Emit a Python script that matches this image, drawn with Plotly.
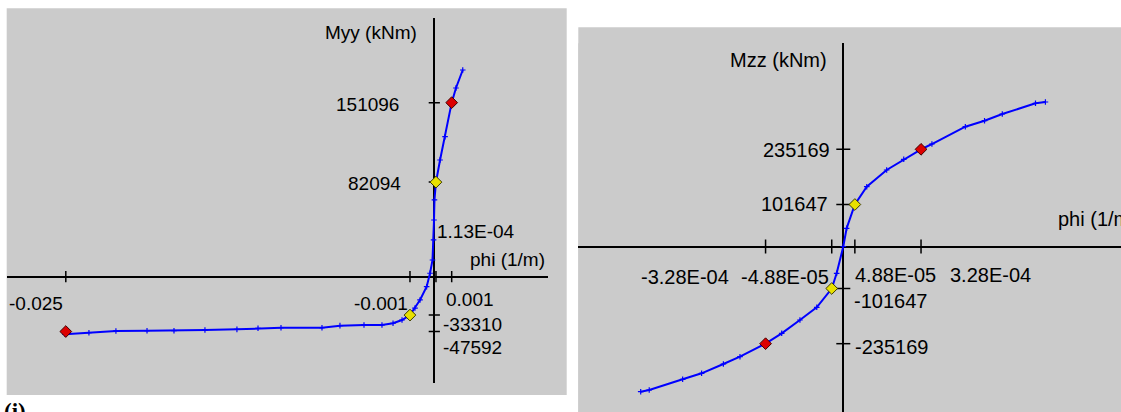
import plotly.graph_objects as go

# ---------------- data: left panel (Myy vs phi) ----------------
myy_phi = [-0.02505, -0.02343, -0.02160, -0.01949, -0.01766, -0.01556, -0.01339,
           -0.01196, -0.01040, -0.00762, -0.00640, -0.00477, -0.00355, -0.00280,
           -0.00219, -0.00165, -0.00131, -0.00097, -0.00052, -0.00029, -0.00012,
           -0.00005, -0.00002, 0.00001, 0.000113, 0.00039, 0.00073, 0.00118,
           0.00147, 0.00193]
myy_val = [-50000, -48600, -47100, -46900, -46900, -46300, -45700,
           -44800, -44300, -44300, -42500, -41900, -41900, -40400,
           -37600, -33310, -27200, -20200, -8700, 3000, 14500,
           31900, 49200, 66600, 82094, 101300, 121500, 151096,
           163800, 179400]
myy_yield_phi = [-0.00165, 0.000113]
myy_yield_val = [-33310, 82094]
myy_ult_phi = [-0.025, 0.00118]
myy_ult_val = [-47592, 151096]
left_xtick_vals = [-0.025, -0.00165, 0.000113, 0.00118]
left_xtick_text = ["-0.025", "-0.001", "1.13E-04", "0.001"]
left_ytick_vals = [151096, 82094, -33310, -47592]
left_ytick_text = ["151096", "82094", "-33310", "-47592"]

# ---------------- data: right panel (Mzz vs phi) ----------------
mzz_phi = [-8.55e-4, -8.19e-4, -6.78e-4, -5.98e-4, -5.06e-4, -4.36e-4, -3.28e-4,
           -2.60e-4, -1.83e-4, -1.12e-4, -4.88e-5, -2.8e-5, 0.0, 1.4e-5, 4.88e-5,
           9.9e-5, 1.83e-4, 2.55e-4, 3.28e-4, 3.74e-4, 5.15e-4, 5.96e-4, 6.71e-4,
           8.11e-4, 8.53e-4]
mzz_val = [-351400, -347300, -321400, -306900, -284400, -266700, -235169,
           -210100, -177900, -147100, -101647, -64900, 0, 44000, 101647,
           144700, 185100, 211000, 235169, 248000, 289900, 304400, 320700,
           346500, 349700]
mzz_yield_phi = [-4.88e-5, 4.88e-5]
mzz_yield_val = [-101647, 101647]
mzz_ult_phi = [-3.28e-4, 3.28e-4]
mzz_ult_val = [-235169, 235169]
right_xtick_vals = [-3.28e-4, -4.88e-5, 4.88e-5, 3.28e-4]
right_xtick_text = ["-3.28E-04", "-4.88E-05", "4.88E-05", "3.28E-04"]
right_ytick_vals = [235169, 101647, -101647, -235169]
right_ytick_text = ["235169", "101647", "-101647", "-235169"]

# ---------------- styling ----------------
W, H = 1121, 412
GRAY = "#cbcbcb"
BLUE = "#0000ff"
FONT = "Liberation Sans"


def px(xp):
    return xp / W


def py(yp):
    return 1 - yp / H


fig = go.Figure()


def add_panel(xa, ya, phi, val, yphi, yval, uphi, uval, xt, yt, tsize):
    # tick marks on the crossing axes
    fig.add_trace(go.Scatter(x=xt, y=[0] * len(xt), mode="markers", xaxis=xa, yaxis=ya,
                             marker=dict(symbol="line-ns-open", size=tsize, color="black",
                                         line=dict(color="black", width=1.5)),
                             hoverinfo="skip"))
    fig.add_trace(go.Scatter(x=[0] * len(yt), y=yt, mode="markers", xaxis=xa, yaxis=ya,
                             marker=dict(symbol="line-ew-open", size=tsize, color="black",
                                         line=dict(color="black", width=1.5)),
                             hoverinfo="skip"))
    # moment-curvature curve
    fig.add_trace(go.Scatter(x=phi, y=val, mode="lines+markers", xaxis=xa, yaxis=ya,
                             line=dict(color=BLUE, width=2),
                             marker=dict(symbol="cross-thin-open", size=4, color=BLUE,
                                         line=dict(color=BLUE, width=1.2))))
    # first yield points
    fig.add_trace(go.Scatter(x=yphi, y=yval, mode="markers", xaxis=xa, yaxis=ya,
                             marker=dict(symbol="diamond", size=9, color="#e8e000",
                                         line=dict(color="#3a3a00", width=1))))
    # ultimate points
    fig.add_trace(go.Scatter(x=uphi, y=uval, mode="markers", xaxis=xa, yaxis=ya,
                             marker=dict(symbol="diamond", size=9, color="#dd0000",
                                         line=dict(color="#400000", width=1))))


add_panel("x", "y", myy_phi, myy_val, myy_yield_phi, myy_yield_val,
          myy_ult_phi, myy_ult_val, left_xtick_vals, left_ytick_vals, 8)
add_panel("x2", "y2", mzz_phi, mzz_val, mzz_yield_phi, mzz_yield_val,
          mzz_ult_phi, mzz_ult_val, right_xtick_vals, right_ytick_vals, 10)

axis_common = dict(showgrid=False, showticklabels=False, ticks="", showline=False,
                   zeroline=True, zerolinecolor="black", zerolinewidth=2, fixedrange=True)

# left panel geometry (pixel mapping)
L_X0, L_XS = 434.3, 14740.0   # px of phi=0, px per unit
L_Y0, L_YS = 276.7, 868.0     # px of M=0, kNm per px
L_left, L_right, L_top, L_bot = 7.0, 548.3, 18.3, 383.3
# right panel geometry
R_X0, R_XS = 843.3, 1 / 4.22e-6
R_Y0, R_YS = 246.5, 2420.0
R_left, R_right, R_top, R_bot = 578.3, 1121.0, 43.3, 412.0

fig.update_layout(
    width=W, height=H, margin=dict(l=0, r=0, t=0, b=0),
    paper_bgcolor="white", plot_bgcolor=GRAY, showlegend=False,
    xaxis=dict(domain=[px(L_left), px(L_right)], anchor="y",
               range=[(L_left - L_X0) / L_XS, (L_right - L_X0) / L_XS], **axis_common),
    yaxis=dict(domain=[py(L_bot), py(L_top)], anchor="x",
               range=[(L_Y0 - L_bot) * L_YS, (L_Y0 - L_top) * L_YS], **axis_common),
    xaxis2=dict(domain=[px(R_left), px(R_right)], anchor="y2",
                range=[(R_left - R_X0) / R_XS, (R_right - R_X0) / R_XS], **axis_common),
    yaxis2=dict(domain=[py(R_bot), py(R_top)], anchor="x2",
                range=[(R_Y0 - R_bot) * R_YS, (R_Y0 - R_top) * R_YS], **axis_common),
    shapes=[
        dict(type="rect", xref="paper", yref="paper", layer="below",
             x0=px(6.7), x1=px(566.7), y0=py(395), y1=py(8.3),
             fillcolor=GRAY, line=dict(width=0)),
        dict(type="rect", xref="paper", yref="paper", layer="below",
             x0=px(578.3), x1=1, y0=0, y1=py(27.3),
             fillcolor=GRAY, line=dict(width=0)),
    ],
)

ann = []


def lab(xr, yr, x, y, text, xanchor, xshift, yshift, size):
    ann.append(dict(xref=xr, yref=yr, x=x, y=y, text=text, showarrow=False,
                    xanchor=xanchor, yanchor="middle", xshift=xshift, yshift=yshift,
                    borderpad=0, font=dict(family=FONT, size=size, color="black")))


# left panel labels
lsz = 19
xpl = [("right", -2, -27), ("right", -1, -27), ("left", 0, 45), ("left", -7, -23)]
for v, t, (a, dx, dy) in zip(left_xtick_vals, left_xtick_text, xpl):
    lab("x", "y", v, 0, t, a, dx, dy, lsz)
ypl = [("right", -34, -2), ("right", -32.5, -1), ("left", 7.5, -9), ("left", 7.5, -15.5)]
for v, t, (a, dx, dy) in zip(left_ytick_vals, left_ytick_text, ypl):
    lab("x", "y", 0, v, t, a, dx, dy, lsz)
lab("paper", "paper", px(418), py(33), "Myy (kNm)", "right", 0, 0, lsz)
lab("paper", "paper", px(469), py(259), "phi (1/m)", "left", 0, 0, lsz)

# right panel labels
rsz = 20
xpr = [("right", -35.7, -30), ("right", -1.4, -30), ("left", -1, -28.5), ("left", 27.8, -28.5)]
for v, t, (a, dx, dy) in zip(right_xtick_vals, right_xtick_text, xpr):
    lab("x2", "y2", v, 0, t, a, dx, dy, rsz)
ypr = [("right", -12.6, -0.7), ("right", -14.3, 0.5), ("left", 10, -12.5), ("left", 10.7, -3)]
for v, t, (a, dx, dy) in zip(right_ytick_vals, right_ytick_text, ypr):
    lab("x2", "y2", 0, v, t, a, dx, dy, rsz)
lab("paper", "paper", px(828.3), py(60), "Mzz (kNm)", "right", 0, 0, rsz)
lab("paper", "paper", px(1056.6), py(219), "phi (1/m)", "left", 0, 0, rsz)

# panel caption
ann.append(dict(xref="paper", yref="paper", x=px(3), y=py(398), text="<b>(i)</b>",
                showarrow=False, xanchor="left", yanchor="top", borderpad=0,
                font=dict(family="Liberation Serif", size=23, color="black")))

fig.update_layout(annotations=ann)
fig.write_html("out.html", config={"displayModeBar": False},
               post_script="document.body.style.margin='0px';document.body.style.overflow='hidden';")
